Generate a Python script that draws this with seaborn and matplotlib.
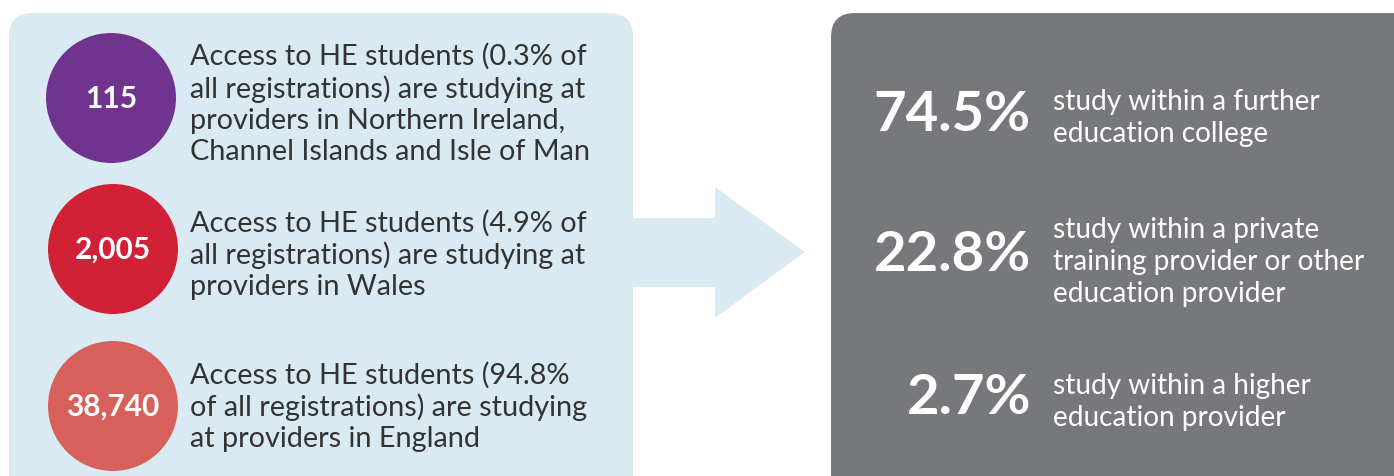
import numpy as np
import pandas as pd
import matplotlib.pyplot as plt
import seaborn as sns
from matplotlib.patches import FancyBboxPatch, Polygon

# Access to HE registrations by country of provider
counts = ["115", "2,005", "38,740"]
country_lines = [
    "Access to HE students (0.3% of\nall registrations) are studying at\nproviders in Northern Ireland,\nChannel Islands and Isle of Man",
    "Access to HE students (4.9% of\nall registrations) are studying at\nproviders in Wales",
    "Access to HE students (94.8%\nof all registrations) are studying\nat providers in England",
]
circle_colors = ["#70348F", "#D12137", "#D8605B"]

# share by provider type
provider_pcts = ["74.5%", "22.8%", "2.7%"]
provider_lines = [
    "study within a further\neducation college",
    "study within a private\ntraining provider or other\neducation provider",
    "study within a higher\neducation provider",
]

W, H = 1394, 477
sns.set_style("white")
plt.rcParams['font.family'] = ['Lato', 'DejaVu Sans']

fig = plt.figure(figsize=(W / 100, H / 100), dpi=100)
ax = fig.add_axes([0, 0, 1, 1])
ax.set_xlim(0, W)
ax.set_ylim(H, 0)
ax.set_aspect('equal')
ax.axis('off')

# panels
ax.add_patch(FancyBboxPatch((9, 14), 624, 500, boxstyle="round,pad=0,rounding_size=24",
                            fc="#DAEAF3", ec="none", zorder=0))
ax.add_patch(FancyBboxPatch((831, 14), 600, 500, boxstyle="round,pad=0,rounding_size=24",
                            fc="#77787B", ec="none", zorder=0))
# arrow
ax.add_patch(Polygon([(630, 219), (715, 219), (715, 188), (805, 253), (715, 319),
                      (715, 288), (630, 288)], closed=True, fc="#DAEAF3", ec="none", zorder=0))

# circles
circ = pd.DataFrame({"x": [111, 113, 113], "y": [99, 250, 407], "label": counts})
sns.scatterplot(data=circ, x="x", y="y", hue="label", palette=circle_colors,
                s=(2 * 65 * 72 / 100) ** 2, linewidth=0, legend=False, ax=ax, zorder=2)
for _, r in circ.iterrows():
    ax.text(r.x, r.y, r.label, color="white", fontsize=21.5, fontweight="bold",
            ha="center", va="center", zorder=3)

for y, txt in zip([104, 255, 407], country_lines):
    ax.text(190, y, txt, color="#333333", fontsize=20.8, ha="left", va="center",
            linespacing=1.24, zorder=3)

# right panel
for y, pct, txt in zip([115, 255, 398], provider_pcts, provider_lines):
    ax.text(1031, y, pct, color="white", fontsize=40.5, fontweight="bold",
            ha="right", va="center", zorder=3)
for y, txt in zip([118, 262, 402], provider_lines):
    ax.text(1053, y, txt, color="white", fontsize=20.2, ha="left", va="center",
            linespacing=1.27, zorder=3)

fig.savefig("out.png", dpi=100)
